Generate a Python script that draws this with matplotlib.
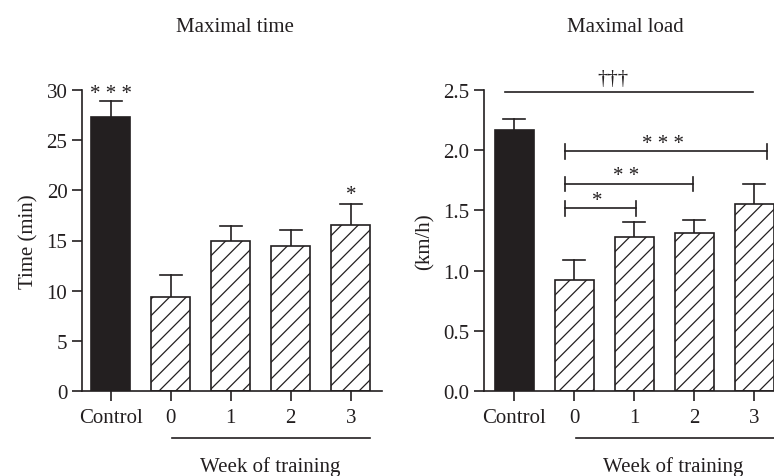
import matplotlib
matplotlib.use('Agg')
import matplotlib.pyplot as plt
import numpy as np

plt.rcParams['font.family'] = ['Liberation Serif', 'DejaVu Serif']
plt.rcParams['hatch.linewidth'] = 0.9

groups = ['Control', '0', '1', '2', '3']
time_mean = [27.3, 9.35, 14.95, 14.45, 16.55]
time_err = [1.6, 2.25, 1.5, 1.6, 2.05]
load_mean = [2.165, 0.92, 1.275, 1.315, 1.55]
load_err = [0.095, 0.165, 0.125, 0.105, 0.17]

fig = plt.figure(figsize=(7.74, 4.77), dpi=100)
W, H = 774, 477
fs = 15
ink = '#231f20'


def panel(left_px, right_px, mean, err, ylim, yticks, fmt, ylabel):
    ax = fig.add_axes([left_px / W, 1 - 392 / H, (right_px - left_px) / W, 301 / H])
    x = np.arange(len(mean))
    colors = [ink] + ['white'] * 4
    hatches = [None, '//', '//', '//', '//']
    for xi, m, e, c, h in zip(x, mean, err, colors, hatches):
        ax.bar(xi, m, width=0.65, color=c, edgecolor=ink, linewidth=1.2, hatch=h, zorder=2)
        ax.plot([xi, xi], [m, m + e], color=ink, lw=1.2, zorder=1)
        ax.plot([xi - 0.18, xi + 0.18], [m + e, m + e], color=ink, lw=1.2, zorder=1)
    ax.set_ylim(*ylim)
    ax.set_yticks(yticks)
    ax.set_yticklabels([fmt.format(t) for t in yticks], fontsize=fs)
    ax.set_xticks(x)
    ax.set_xticklabels(groups, fontsize=fs)
    ax.spines['top'].set_visible(False)
    ax.spines['right'].set_visible(False)
    for s in ('left', 'bottom'):
        ax.spines[s].set_linewidth(1.2)
        ax.spines[s].set_color(ink)
    ax.tick_params(length=7.5, width=1.2, color=ink, labelcolor=ink, pad=3)
    ax.tick_params(axis='x', pad=5)
    ax.set_ylabel(ylabel, fontsize=fs, color=ink, labelpad=6)
    return ax


ax1 = panel(82, 382, time_mean, time_err, (0, 30), [0, 5, 10, 15, 20, 25, 30], '{:g}', 'Time (min)')
ax1.set_xlim(-0.48, 4.52)
ax1.text(0, 28.7, '* * *', ha='center', va='bottom', fontsize=fs, color=ink)
ax1.text(4, 18.6, '*', ha='center', va='bottom', fontsize=fs, color=ink)
ax1.plot([1.02, 4.32], [-0.155, -0.155], transform=ax1.get_xaxis_transform(), color=ink, lw=1.2, clip_on=False)
fig.text(235 / W, 1 - 27 / H, 'Maximal time', ha='center', va='center', fontsize=fs, color=ink)
fig.text(270 / W, 1 - 467 / H, 'Week of training', ha='center', va='center', fontsize=fs, color=ink)

ax2 = panel(484, 804, load_mean, load_err, (0, 2.5), [0, 0.5, 1.0, 1.5, 2.0, 2.5], '{:.1f}', '(km/h)')
ax2.set_xlim(-0.5, 4.83)
ax2.plot([-0.15, 3.98], [2.48, 2.48], color=ink, lw=1.2, clip_on=False)
ax2.text(1.65, 2.52, '\u2020\u2020\u2020', ha='center', va='bottom', fontsize=fs, color=ink)
brackets = [(0.85, 2.03, 1.517, '*'), (0.85, 2.98, 1.72, '* *'), (0.85, 4.22, 1.99, '* * *')]
for x0, x1, y, s in brackets:
    ax2.plot([x0, x1], [y, y], color=ink, lw=1.2)
    ax2.plot([x0, x0], [y - 0.06, y + 0.06], color=ink, lw=1.2)
    ax2.plot([x1, x1], [y - 0.06, y + 0.06], color=ink, lw=1.2)
    ax2.text((x0 + x1) / 2 - 0.05, y - 0.01, s, ha='center', va='bottom', fontsize=fs, color=ink)
ax2.plot([1.03, 4.9], [-0.155, -0.155], transform=ax2.get_xaxis_transform(), color=ink, lw=1.2, clip_on=False)
fig.text(625 / W, 1 - 27 / H, 'Maximal load', ha='center', va='center', fontsize=fs, color=ink)
fig.text(673 / W, 1 - 467 / H, 'Week of training', ha='center', va='center', fontsize=fs, color=ink)

fig.savefig('out.png', dpi=100)
